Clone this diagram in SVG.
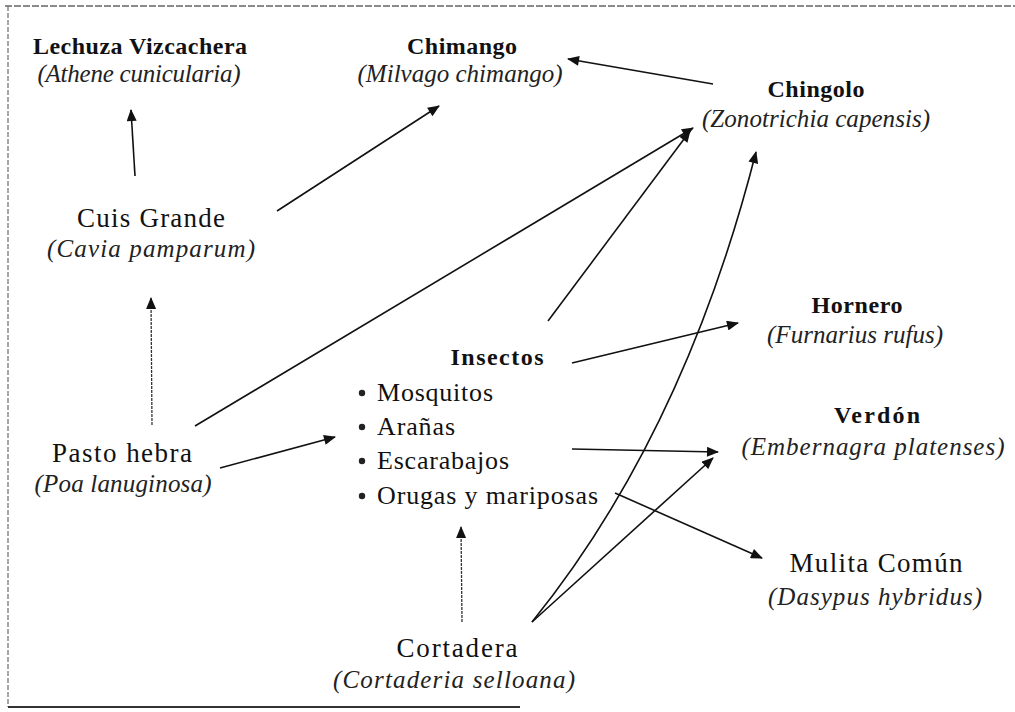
<svg xmlns="http://www.w3.org/2000/svg" width="1015" height="712" viewBox="0 0 1015 712">
<defs>
<style>
.b{font-family:"Liberation Serif","Times New Roman",serif;font-weight:bold;font-size:24px;fill:#111;text-anchor:middle}
.r{font-family:"Liberation Serif","Times New Roman",serif;font-size:27px;fill:#111;text-anchor:middle}
.i{font-family:"Liberation Serif","Times New Roman",serif;font-style:italic;font-size:25px;fill:#222;text-anchor:middle}
.li{font-family:"Liberation Serif","Times New Roman",serif;font-size:26px;fill:#111}
.c{fill:none;stroke:#111;stroke-width:1.6;marker-end:url(#ah)}
.d{fill:none;stroke:#333;stroke-width:1.3;stroke-dasharray:3 1;marker-end:url(#ah)}
</style>
<marker id="ah" viewBox="0 0 12 10" refX="11" refY="5" markerWidth="13" markerHeight="10" markerUnits="userSpaceOnUse" orient="auto">
<path d="M0,0 L12,5 L0,10 z" fill="#111"/>
</marker>
</defs>
<rect width="1015" height="712" fill="#fff"/>
<g id="border" fill="none">
<line x1="5" y1="6" x2="1015" y2="6" stroke="#666" stroke-width="1.6" stroke-dasharray="7 2"/>
<line x1="8" y1="6" x2="8" y2="707" stroke="#777" stroke-width="1.3" stroke-dasharray="5 2"/>
<line x1="8" y1="707" x2="520" y2="707" stroke="#333" stroke-width="2"/>
</g>
<g id="connectors">
<line class="c" x1="135" y1="176" x2="131" y2="110"/>
<line class="c" x1="277" y1="211" x2="439" y2="106"/>
<line class="c" x1="713" y1="84" x2="568" y2="59"/>
<line class="c" x1="195" y1="426" x2="693" y2="128"/>
<line class="c" x1="548" y1="321" x2="690" y2="131"/>
<line class="d" x1="152" y1="425" x2="151" y2="298"/>
<line class="c" x1="220" y1="468" x2="335" y2="437"/>
<line class="c" x1="572" y1="363" x2="738" y2="323"/>
<line class="c" x1="572" y1="449" x2="718" y2="452"/>
<line class="c" x1="615" y1="493" x2="762" y2="558"/>
<line class="c" x1="532" y1="622" x2="713" y2="458"/>
<path class="c" d="M532,622 Q684,434 756,152"/>
<line class="d" x1="462" y1="622" x2="461" y2="527"/>
</g>
<g id="lechuza">
<text class="b" x="140" y="54" textLength="214">Lechuza Vizcachera</text>
<text class="i" x="139" y="82" textLength="203">(Athene cunicularia)</text>
</g>
<g id="chimango">
<text class="b" x="462" y="54" textLength="110">Chimango</text>
<text class="i" x="460" y="82" textLength="205">(Milvago chimango)</text>
</g>
<g id="chingolo">
<text class="b" x="816" y="97" textLength="97">Chingolo</text>
<text class="i" x="816" y="127" textLength="228">(Zonotrichia capensis)</text>
</g>
<g id="cuis">
<text class="r" x="151" y="227" textLength="148">Cuis Grande</text>
<text class="i" x="151" y="257" textLength="208">(Cavia pamparum)</text>
</g>
<g id="pasto">
<text class="r" x="122" y="462" textLength="140">Pasto hebra</text>
<text class="i" x="123" y="492" textLength="177">(Poa lanuginosa)</text>
</g>
<g id="insectos">
<text class="b" x="497" y="365" textLength="93">Insectos</text>
<circle cx="362" cy="393" r="3.2" fill="#222"/>
<text class="li" x="377" y="401" textLength="116">Mosquitos</text>
<circle cx="362" cy="427" r="3.2" fill="#222"/>
<text class="li" x="377" y="435" textLength="78">Arañas</text>
<circle cx="362" cy="461" r="3.2" fill="#222"/>
<text class="li" x="377" y="469" textLength="132">Escarabajos</text>
<circle cx="362" cy="496" r="3.2" fill="#222"/>
<text class="li" x="377" y="504" textLength="221">Orugas y mariposas</text>
</g>
<g id="cortadera">
<text class="r" x="457" y="657" textLength="121">Cortadera</text>
<text class="i" x="454" y="688" textLength="242">(Cortaderia selloana)</text>
</g>
<g id="hornero">
<text class="b" x="857" y="313" textLength="91">Hornero</text>
<text class="i" x="855" y="343" textLength="176">(Furnarius rufus)</text>
</g>
<g id="verdon">
<text class="b" x="877" y="423" textLength="86">Verdón</text>
<text class="i" x="873" y="455" textLength="263">(Embernagra platenses)</text>
</g>
<g id="mulita">
<text class="r" x="876" y="572" textLength="173">Mulita Común</text>
<text class="i" x="875" y="605" textLength="214">(Dasypus hybridus)</text>
</g>
</svg>
